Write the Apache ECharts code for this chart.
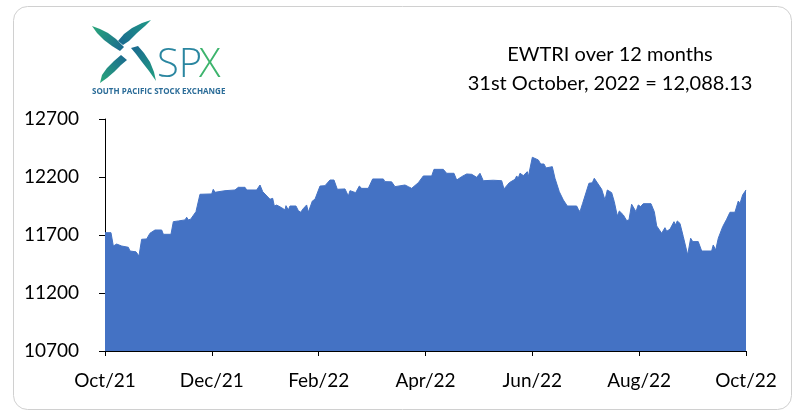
<!DOCTYPE html>
<html>
<head>
<meta charset="utf-8">
<script src="https://cdn.jsdelivr.net/npm/echarts@6/dist/echarts.min.js"></script>
<style>
html,body{margin:0;padding:0;background:#fff;}
#chart{width:795px;height:412px;}
</style>
</head>
<body>
<div id="chart"></div>
<script>
// x positions in months since 31 Oct 2021
const months = [0,0.112,0.156,0.218,0.312,0.437,0.468,0.580,0.636,0.686,0.780,0.842,0.936,1.061,1.092,1.123,1.235,1.279,1.310,1.373,1.498,1.529,1.560,1.603,1.703,1.778,1.997,2.027,2.059,2.246,2.434,2.496,2.621,2.652,2.839,2.902,2.952,3.089,3.139,3.170,3.214,3.308,3.369,3.388,3.432,3.463,3.575,3.619,3.663,3.713,3.775,3.806,3.838,3.882,3.912,3.931,4.025,4.118,4.212,4.287,4.349,4.493,4.555,4.586,4.693,4.761,4.805,4.929,5.011,5.210,5.241,5.366,5.429,5.616,5.678,5.741,5.866,5.959,6.116,6.159,6.333,6.396,6.533,6.584,6.677,6.771,6.865,6.958,7.020,7.082,7.269,7.426,7.469,7.569,7.675,7.707,7.737,7.769,7.831,7.906,7.925,8.000,8.112,8.156,8.218,8.256,8.374,8.424,8.505,8.580,8.611,8.655,8.830,8.861,8.892,8.942,9.060,9.123,9.160,9.298,9.360,9.404,9.485,9.534,9.560,9.591,9.629,9.703,9.766,9.809,9.859,9.940,9.983,10.028,10.077,10.221,10.283,10.328,10.421,10.451,10.483,10.515,10.577,10.652,10.683,10.713,10.764,10.826,10.908,10.964,11.002,11.106,11.170,11.357,11.387,11.432,11.481,11.564,11.638,11.700,11.793,11.856,11.887,11.937,12];
const ewtri = [11720,11720,11605,11622,11605,11594,11562,11555,11519,11663,11666,11715,11743,11743,11706,11700,11706,11815,11800,11821,11830,11853,11830,11836,11901,12051,12054,12094,12068,12082,12088,12111,12111,12088,12088,12131,12074,12008,12016,11950,11958,11935,11916,11953,11916,11950,11950,11910,11896,11928,11959,11896,11905,11993,11990,12008,12122,12125,12174,12174,12094,12097,12036,12082,12065,12122,12102,12102,12183,12183,12160,12158,12117,12131,12117,12102,12151,12209,12209,12266,12266,12232,12232,12174,12203,12226,12223,12197,12232,12168,12172,12168,12097,12151,12180,12209,12190,12232,12212,12246,12203,12370,12347,12312,12312,12278,12289,12189,12073,12002,11990,11950,11950,11921,11901,11973,12146,12150,12189,12094,12002,12088,12065,11987,11980,11864,11907,11873,11824,11830,11965,11901,11959,11945,11970,11970,11901,11778,11715,11715,11763,11732,11750,11815,11786,11821,11800,11686,11528,11672,11643,11643,11562,11562,11614,11570,11672,11772,11836,11896,11896,11993,11970,12045,12088.13];
const xTickLabels = ['Oct/21','Dec/21','Feb/22','Apr/22','Jun/22','Aug/22','Oct/22'];
const yTicks = [10700,11200,11700,12200,12700];
const titleLines = ['EWTRI over 12 months','31st October, 2022 = 12,088.13'];

const FONT = 'Lato, "Open Sans", sans-serif';
const data = months.map((m,i)=>[m, ewtri[i]]);
const GREEN = '#2aa87a', BLUE = '#1a6790';
function grad(x,y,x2,y2,c1,c2){return {type:'linear',x:x,y:y,x2:x2,y2:y2,colorStops:[{offset:0,color:c1},{offset:1,color:c2}]};}
const chart = echarts.init(document.getElementById('chart'), null, {renderer:'canvas'});
chart.setOption({
  animation:false,
  backgroundColor:'#ffffff',
  grid:{left:105,right:49,top:119,bottom:61,containLabel:false},
  xAxis:{
    type:'value', min:0, max:12, interval:2,
    axisLine:{show:true,onZero:false,lineStyle:{color:'#000',width:1}},
    axisTick:{show:true,inside:false,length:5,lineStyle:{color:'#000'}},
    splitLine:{show:false},
    axisLabel:{margin:20,color:'#000',fontSize:19,fontFamily:FONT,
      formatter:(v)=>xTickLabels[Math.round(v/2)] || ''}
  },
  yAxis:{
    type:'value', min:yTicks[0], max:yTicks[yTicks.length-1], interval:500,
    axisLine:{show:true,lineStyle:{color:'#000',width:1}},
    axisTick:{show:true,length:6,lineStyle:{color:'#000'}},
    splitLine:{show:false},
    axisLabel:{margin:26,color:'#000',fontSize:19,fontFamily:FONT,formatter:(v)=>String(v)}
  },
  series:[{
    type:'line', data:data, showSymbol:false, symbol:'none',
    lineStyle:{color:'#4472C4',width:1},
    areaStyle:{color:'#4472C4',opacity:1,origin:'start'},
    z:1
  }],
  graphic:[
    {type:'rect',left:11,top:4,shape:{width:778,height:403,r:14},style:{fill:'none',stroke:'#d0d0d0',lineWidth:1},silent:true},
    {type:'text',x:610,y:55,style:{text:titleLines[0],font:'20px '+FONT,fill:'#000',textAlign:'center',textVerticalAlign:'middle'}},
    {type:'text',x:610,y:84,style:{text:titleLines[1],font:'20px '+FONT,fill:'#000',textAlign:'center',textVerticalAlign:'middle'}},
    {type:'polygon',shape:{points:[[92,26],[100,29],[108,33],[116,39],[124,47],[120,51],[112,46],[104,40],[97,33]]},style:{fill:grad(0,0,1,1,GREEN,BLUE)}},
    {type:'polygon',shape:{points:[[151,20],[142,23],[132,28],[124,34],[118,41],[123,45],[129,41],[137,33],[145,26]]},style:{fill:grad(1,0,0,1,'#1f9a86',BLUE)}},
    {type:'polygon',shape:{points:[[121,55],[114,61],[107,68],[102,75],[100,83],[107,78],[114,72],[121,65],[127,60]]},style:{fill:grad(1,0,0,1,BLUE,GREEN)}},
    {type:'polygon',shape:{points:[[131,48],[136,54],[142,62],[149,71],[156,81],[154,72],[150,62],[144,53],[138,46]]},style:{fill:grad(0,0,1,1,BLUE,'#22a080')}},
    {type:'text',x:157,y:86,style:{text:'SP',font:'300 40px "Open Sans", Lato, sans-serif',fill:'#2a86a0',textVerticalAlign:'bottom'}},
    {type:'text',x:199,y:86,style:{text:'X',font:'300 40px "Open Sans", Lato, sans-serif',fill:'#3db46d',textVerticalAlign:'bottom'}},
    {type:'text',x:92,y:92,style:{text:'SOUTH PACIFIC STOCK EXCHANGE',font:'bold 8px "Open Sans", sans-serif',fill:'#2b6c98',textVerticalAlign:'middle'}}
  ]
});
</script>
</body>
</html>
